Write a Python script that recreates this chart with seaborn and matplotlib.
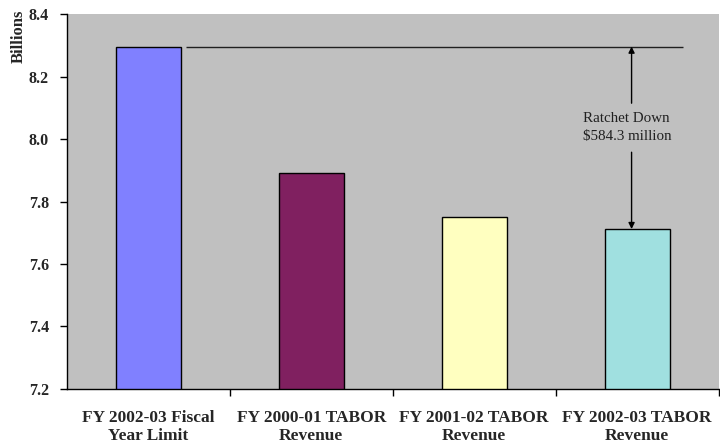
import matplotlib
matplotlib.use("Agg")
import matplotlib.pyplot as plt
import seaborn as sns

# Data (billions of dollars)
categories = [
    "FY 2002-03 Fiscal\nYear Limit",
    "FY 2000-01 TABOR\nRevenue",
    "FY 2001-02 TABOR\nRevenue",
    "FY 2002-03 TABOR\nRevenue",
]
values = [8.2963, 7.893, 7.752, 7.712]
bar_colors = ["#8080FF", "#802060", "#FFFFC0", "#A0E0E0"]
y_ticks = [7.2, 7.4, 7.6, 7.8, 8.0, 8.2, 8.4]

sns.set_style("white")
plt.rcParams["font.family"] = ["Liberation Serif", "DejaVu Serif"]

fig = plt.figure(figsize=(7.2, 4.44), dpi=100)
ax = fig.add_axes([0.093, 0.124, 0.905, 0.844])
ax.set_facecolor("#C0C0C0")

sns.barplot(x=categories, y=values, hue=categories, palette=bar_colors,
            saturation=1, width=0.4, edgecolor="black", linewidth=1,
            legend=False, ax=ax)

ax.set_xlim(-0.5, 3.5)
ax.set_ylim(7.2, 8.4)
ax.set_yticks(y_ticks)
ax.set_yticklabels([f"{t:.1f}" for t in y_ticks], fontsize=11.5, fontweight="bold")
ax.tick_params(axis="y", direction="out", length=5, width=1, pad=8, color="black", left=True)

# Category labels sit under bar centres; tick marks sit on the boundaries
ax.set_xticks(range(len(categories)))
ax.set_xticklabels(categories, fontsize=12.5, fontweight="bold", linespacing=1.15)
ax.tick_params(axis="x", which="major", length=0, pad=15)
ax.set_xticks([0.5, 1.5, 2.5, 3.5], minor=True)
ax.tick_params(axis="x", which="minor", direction="out", length=5, width=1,
               color="black", bottom=True)

for side in ["top", "right"]:
    ax.spines[side].set_visible(False)
for side in ["left", "bottom"]:
    ax.spines[side].set_color("black")
    ax.spines[side].set_linewidth(1)

ax.set_xlabel("")
ax.set_ylabel("Billions", fontsize=12, fontweight="bold")
ax.yaxis.set_label_coords(-0.062, 0.94)

# Ratchet-down annotation between the limit and the latest revenue
limit = values[0]
latest = values[3]
ratchet_million = (limit - latest) * 1000
ax.hlines(limit, 0.23, 3.28, color="#202020", lw=1)
arrow_x = 2.966
arrow_kw = dict(arrowstyle="-|>", color="black", lw=1, mutation_scale=9,
                shrinkA=0, shrinkB=0)
ax.annotate("", xy=(arrow_x, limit), xytext=(arrow_x, 8.115), arrowprops=arrow_kw)
ax.annotate("", xy=(arrow_x, latest), xytext=(arrow_x, 7.958), arrowprops=arrow_kw)
ax.text(2.666, 8.037, f"Ratchet Down\n${ratchet_million:.1f} million",
        ha="left", va="center", fontsize=10.8, color="#202020", linespacing=1.5)

fig.savefig("out.png", dpi=100)
